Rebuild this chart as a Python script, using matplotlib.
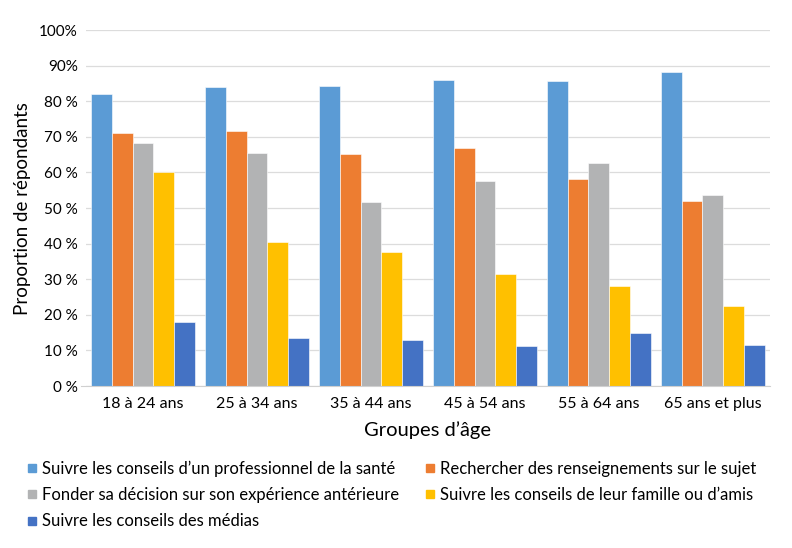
import matplotlib.pyplot as plt
import numpy as np
from matplotlib.lines import Line2D
from matplotlib.ticker import FixedLocator

plt.rcParams['font.family'] = ['Lato', 'DejaVu Sans']

# ── Data ───────────────────────────────────────────────
groups = ["18 à 24 ans", "25 à 34 ans", "35 à 44 ans", "45 à 54 ans", "55 à 64 ans", "65 ans et plus"]
series = [
    "Suivre les conseils d\u2019un professionnel de la santé",
    "Rechercher des renseignements sur le sujet",
    "Fonder sa décision sur son expérience antérieure",
    "Suivre les conseils de leur famille ou d\u2019amis",
    "Suivre les conseils des médias",
]
professionnel = [82.0, 84.0, 84.2, 85.9, 85.8, 88.3]
recherche = [71.0, 71.6, 65.2, 67.0, 58.2, 52.0]
experience = [68.2, 65.6, 51.8, 57.6, 62.8, 53.7]
famille = [60.2, 40.6, 37.6, 31.5, 28.0, 22.5]
medias = [18.0, 13.4, 12.9, 11.2, 15.0, 11.4]
values = [professionnel, recherche, experience, famille, medias]
yticks = [0, 10, 20, 30, 40, 50, 60, 70, 80, 90, 100]
ytick_labels = ["0\u00a0%", "10\u00a0%", "20\u00a0%", "30\u00a0%", "40\u00a0%", "50\u00a0%",
                "60\u00a0%", "70\u00a0%", "80\u00a0%", "90%", "100%"]

colors = ["#5B9BD5", "#ED7D31", "#B2B3B4", "#FFC000", "#4472C4"]

# ── Figure ─────────────────────────────────────────────
fig = plt.figure(figsize=(7.92, 5.48), dpi=100)
ax = fig.add_axes([0.1086, 0.2956, 0.972 - 0.1086, 0.945 - 0.2956])

x = np.arange(len(groups))
w = 0.182
for i, (vals, col) in enumerate(zip(values, colors)):
    ax.bar(x + (i - 2) * w, vals, width=w, color=col, edgecolor="white",
           linewidth=0.4, zorder=3)

ax.set_xlim(-0.5, len(groups) - 0.5)
ax.set_ylim(0, 100)
ax.yaxis.set_major_locator(FixedLocator(yticks))
ax.set_yticklabels(ytick_labels, fontsize=11)
ax.set_xticks(x)
ax.set_xticklabels(groups, fontsize=11.5)
ax.tick_params(axis="both", length=0, pad=6)
ax.tick_params(axis="x", pad=8)
ax.grid(axis="y", color="#DCDCDC", linewidth=0.9, zorder=0)
for s in ["top", "right", "left"]:
    ax.spines[s].set_visible(False)
ax.spines["bottom"].set_color("#D0D0D0")
ax.spines["bottom"].set_bounds(-0.545, len(groups) - 0.5)
ax.spines["bottom"].set_zorder(4)

ax.set_ylabel("Proportion de répondants", fontsize=13.5, labelpad=6)
ax.set_xlabel("Groupes d\u2019âge", fontsize=14.5, labelpad=7)

# legend, filled row-wise
order = [0, 2, 4, 1, 3]
handles = [Line2D([], [], marker="s", linestyle="none", markersize=5.5,
                  markerfacecolor=colors[k], markeredgecolor=colors[k]) for k in order]
labels = [series[k] for k in order]
fig.legend(handles, labels, ncol=2, loc="upper left", bbox_to_anchor=(0.027, 0.172),
           frameon=False, fontsize=12, handlelength=0.5, handletextpad=0.35,
           columnspacing=1.6, labelspacing=0.62, borderaxespad=0)

fig.savefig("out.png", dpi=100)
